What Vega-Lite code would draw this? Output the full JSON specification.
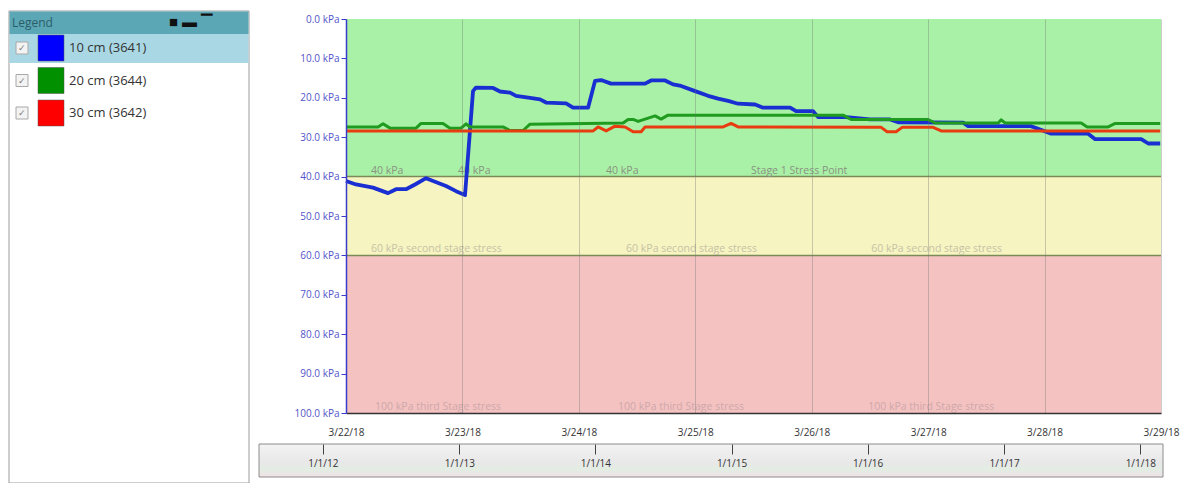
{
  "$schema": "https://vega.github.io/schema/vega-lite/v6.json",
  "background": "white",
  "padding": {"left": 8, "top": 10, "right": 0, "bottom": 0},
  "spacing": 8,
  "config": {"view": {"stroke": null}, "font": "Open Sans"},
  "datasets": {
    "series": [
      {"name": "10 cm (3641)"},
      {"name": "20 cm (3644)"},
      {"name": "30 cm (3642)"}
    ],
    "bands": [
      {"stage": "Stage 1", "kpa": 0, "kpaHi": 40},
      {"stage": "Stage 2", "kpa": 40, "kpaHi": 60},
      {"stage": "Stage 3", "kpa": 60, "kpaHi": 100}
    ],
    "thresholds": [{"kpa": 40}, {"kpa": 60}],
    "bandLabels": [
      {"t": "2018-03-22T05:09", "kpa": 40, "label": "40 kPa"},
      {"t": "2018-03-22T23:06", "kpa": 40, "label": "40 kPa"},
      {"t": "2018-03-24T05:37", "kpa": 40, "label": "40 kPa"},
      {"t": "2018-03-25T11:30", "kpa": 40, "label": "Stage 1 Stress Point"},
      {"t": "2018-03-22T05:09", "kpa": 60, "label": "60 kPa second stage stress"},
      {"t": "2018-03-24T09:44", "kpa": 60, "label": "60 kPa second stage stress"},
      {"t": "2018-03-26T12:15", "kpa": 60, "label": "60 kPa second stage stress"},
      {"t": "2018-03-22T06:00", "kpa": 100, "label": "100 kPa third Stage stress"},
      {"t": "2018-03-24T08:05", "kpa": 100, "label": "100 kPa third Stage stress"},
      {"t": "2018-03-26T11:38", "kpa": 100, "label": "100 kPa third Stage stress"}
    ],
    "readings": [
      {"series": "10 cm (3641)", "t": "2018-03-22T00:00", "kpa": 41.1},
      {"series": "10 cm (3641)", "t": "2018-03-22T02:04", "kpa": 42.0},
      {"series": "10 cm (3641)", "t": "2018-03-22T05:34", "kpa": 42.8},
      {"series": "10 cm (3641)", "t": "2018-03-22T08:40", "kpa": 44.2},
      {"series": "10 cm (3641)", "t": "2018-03-22T10:19", "kpa": 43.2},
      {"series": "10 cm (3641)", "t": "2018-03-22T12:22", "kpa": 43.2},
      {"series": "10 cm (3641)", "t": "2018-03-22T14:14", "kpa": 42.0},
      {"series": "10 cm (3641)", "t": "2018-03-22T16:30", "kpa": 40.4},
      {"series": "10 cm (3641)", "t": "2018-03-22T18:21", "kpa": 41.3},
      {"series": "10 cm (3641)", "t": "2018-03-22T20:37", "kpa": 42.4},
      {"series": "10 cm (3641)", "t": "2018-03-22T22:41", "kpa": 43.7},
      {"series": "10 cm (3641)", "t": "2018-03-23T00:32", "kpa": 44.7},
      {"series": "10 cm (3641)", "t": "2018-03-23T02:11", "kpa": 18.3},
      {"series": "10 cm (3641)", "t": "2018-03-23T02:48", "kpa": 17.4},
      {"series": "10 cm (3641)", "t": "2018-03-23T06:19", "kpa": 17.5},
      {"series": "10 cm (3641)", "t": "2018-03-23T07:45", "kpa": 18.4},
      {"series": "10 cm (3641)", "t": "2018-03-23T09:49", "kpa": 18.7},
      {"series": "10 cm (3641)", "t": "2018-03-23T11:03", "kpa": 19.5},
      {"series": "10 cm (3641)", "t": "2018-03-23T13:56", "kpa": 20.0},
      {"series": "10 cm (3641)", "t": "2018-03-23T16:00", "kpa": 20.4},
      {"series": "10 cm (3641)", "t": "2018-03-23T17:14", "kpa": 21.2},
      {"series": "10 cm (3641)", "t": "2018-03-23T21:22", "kpa": 21.4},
      {"series": "10 cm (3641)", "t": "2018-03-23T22:48", "kpa": 22.5},
      {"series": "10 cm (3641)", "t": "2018-03-24T01:54", "kpa": 22.5},
      {"series": "10 cm (3641)", "t": "2018-03-24T03:20", "kpa": 15.7},
      {"series": "10 cm (3641)", "t": "2018-03-24T04:35", "kpa": 15.5},
      {"series": "10 cm (3641)", "t": "2018-03-24T06:38", "kpa": 16.4},
      {"series": "10 cm (3641)", "t": "2018-03-24T13:39", "kpa": 16.4},
      {"series": "10 cm (3641)", "t": "2018-03-24T14:53", "kpa": 15.6},
      {"series": "10 cm (3641)", "t": "2018-03-24T17:46", "kpa": 15.6},
      {"series": "10 cm (3641)", "t": "2018-03-24T19:25", "kpa": 16.6},
      {"series": "10 cm (3641)", "t": "2018-03-24T21:04", "kpa": 17.0},
      {"series": "10 cm (3641)", "t": "2018-03-24T23:58", "kpa": 18.3},
      {"series": "10 cm (3641)", "t": "2018-03-25T02:38", "kpa": 19.5},
      {"series": "10 cm (3641)", "t": "2018-03-25T04:42", "kpa": 20.2},
      {"series": "10 cm (3641)", "t": "2018-03-25T06:46", "kpa": 20.8},
      {"series": "10 cm (3641)", "t": "2018-03-25T08:49", "kpa": 21.5},
      {"series": "10 cm (3641)", "t": "2018-03-25T12:20", "kpa": 21.7},
      {"series": "10 cm (3641)", "t": "2018-03-25T13:59", "kpa": 22.5},
      {"series": "10 cm (3641)", "t": "2018-03-25T19:33", "kpa": 22.5},
      {"series": "10 cm (3641)", "t": "2018-03-25T20:47", "kpa": 23.4},
      {"series": "10 cm (3641)", "t": "2018-03-26T00:17", "kpa": 23.4},
      {"series": "10 cm (3641)", "t": "2018-03-26T01:19", "kpa": 24.9},
      {"series": "10 cm (3641)", "t": "2018-03-26T07:06", "kpa": 24.9},
      {"series": "10 cm (3641)", "t": "2018-03-26T12:02", "kpa": 25.5},
      {"series": "10 cm (3641)", "t": "2018-03-26T16:10", "kpa": 25.5},
      {"series": "10 cm (3641)", "t": "2018-03-26T17:49", "kpa": 26.2},
      {"series": "10 cm (3641)", "t": "2018-03-27T07:13", "kpa": 26.3},
      {"series": "10 cm (3641)", "t": "2018-03-27T08:15", "kpa": 27.2},
      {"series": "10 cm (3641)", "t": "2018-03-27T21:14", "kpa": 27.2},
      {"series": "10 cm (3641)", "t": "2018-03-28T01:22", "kpa": 29.1},
      {"series": "10 cm (3641)", "t": "2018-03-28T08:59", "kpa": 29.1},
      {"series": "10 cm (3641)", "t": "2018-03-28T10:26", "kpa": 30.5},
      {"series": "10 cm (3641)", "t": "2018-03-28T19:55", "kpa": 30.5},
      {"series": "10 cm (3641)", "t": "2018-03-28T21:22", "kpa": 31.6},
      {"series": "10 cm (3641)", "t": "2018-03-28T23:50", "kpa": 31.6},
      {"series": "20 cm (3644)", "t": "2018-03-22T00:00", "kpa": 27.4},
      {"series": "20 cm (3644)", "t": "2018-03-22T06:36", "kpa": 27.4},
      {"series": "20 cm (3644)", "t": "2018-03-22T07:38", "kpa": 26.6},
      {"series": "20 cm (3644)", "t": "2018-03-22T09:04", "kpa": 27.7},
      {"series": "20 cm (3644)", "t": "2018-03-22T14:26", "kpa": 27.7},
      {"series": "20 cm (3644)", "t": "2018-03-22T15:28", "kpa": 26.5},
      {"series": "20 cm (3644)", "t": "2018-03-22T20:00", "kpa": 26.5},
      {"series": "20 cm (3644)", "t": "2018-03-22T21:26", "kpa": 27.7},
      {"series": "20 cm (3644)", "t": "2018-03-22T23:43", "kpa": 27.7},
      {"series": "20 cm (3644)", "t": "2018-03-23T00:45", "kpa": 26.6},
      {"series": "20 cm (3644)", "t": "2018-03-23T01:34", "kpa": 27.4},
      {"series": "20 cm (3644)", "t": "2018-03-23T08:22", "kpa": 27.4},
      {"series": "20 cm (3644)", "t": "2018-03-23T09:49", "kpa": 28.3},
      {"series": "20 cm (3644)", "t": "2018-03-23T12:30", "kpa": 28.3},
      {"series": "20 cm (3644)", "t": "2018-03-23T13:56", "kpa": 26.7},
      {"series": "20 cm (3644)", "t": "2018-03-24T09:07", "kpa": 26.4},
      {"series": "20 cm (3644)", "t": "2018-03-24T10:09", "kpa": 25.5},
      {"series": "20 cm (3644)", "t": "2018-03-24T11:11", "kpa": 25.5},
      {"series": "20 cm (3644)", "t": "2018-03-24T12:13", "kpa": 26.0},
      {"series": "20 cm (3644)", "t": "2018-03-24T13:39", "kpa": 25.4},
      {"series": "20 cm (3644)", "t": "2018-03-24T15:43", "kpa": 24.6},
      {"series": "20 cm (3644)", "t": "2018-03-24T16:57", "kpa": 25.4},
      {"series": "20 cm (3644)", "t": "2018-03-24T18:23", "kpa": 24.4},
      {"series": "20 cm (3644)", "t": "2018-03-26T06:29", "kpa": 24.4},
      {"series": "20 cm (3644)", "t": "2018-03-26T08:08", "kpa": 25.5},
      {"series": "20 cm (3644)", "t": "2018-03-27T00:00", "kpa": 25.5},
      {"series": "20 cm (3644)", "t": "2018-03-27T01:27", "kpa": 26.4},
      {"series": "20 cm (3644)", "t": "2018-03-27T14:26", "kpa": 26.4},
      {"series": "20 cm (3644)", "t": "2018-03-27T15:03", "kpa": 25.6},
      {"series": "20 cm (3644)", "t": "2018-03-27T15:53", "kpa": 26.4},
      {"series": "20 cm (3644)", "t": "2018-03-28T07:33", "kpa": 26.4},
      {"series": "20 cm (3644)", "t": "2018-03-28T08:47", "kpa": 27.4},
      {"series": "20 cm (3644)", "t": "2018-03-28T13:07", "kpa": 27.4},
      {"series": "20 cm (3644)", "t": "2018-03-28T14:34", "kpa": 26.5},
      {"series": "20 cm (3644)", "t": "2018-03-28T23:50", "kpa": 26.5},
      {"series": "30 cm (3642)", "t": "2018-03-22T00:00", "kpa": 28.4},
      {"series": "30 cm (3642)", "t": "2018-03-24T02:56", "kpa": 28.4},
      {"series": "30 cm (3642)", "t": "2018-03-24T03:58", "kpa": 27.4},
      {"series": "30 cm (3642)", "t": "2018-03-24T05:37", "kpa": 28.4},
      {"series": "30 cm (3642)", "t": "2018-03-24T07:28", "kpa": 27.2},
      {"series": "30 cm (3642)", "t": "2018-03-24T09:32", "kpa": 27.4},
      {"series": "30 cm (3642)", "t": "2018-03-24T11:11", "kpa": 28.6},
      {"series": "30 cm (3642)", "t": "2018-03-24T12:50", "kpa": 28.6},
      {"series": "30 cm (3642)", "t": "2018-03-24T13:39", "kpa": 27.4},
      {"series": "30 cm (3642)", "t": "2018-03-25T05:44", "kpa": 27.4},
      {"series": "30 cm (3642)", "t": "2018-03-25T07:23", "kpa": 26.5},
      {"series": "30 cm (3642)", "t": "2018-03-25T08:49", "kpa": 27.4},
      {"series": "30 cm (3642)", "t": "2018-03-26T14:19", "kpa": 27.5},
      {"series": "30 cm (3642)", "t": "2018-03-26T15:33", "kpa": 28.6},
      {"series": "30 cm (3642)", "t": "2018-03-26T17:24", "kpa": 28.6},
      {"series": "30 cm (3642)", "t": "2018-03-26T18:38", "kpa": 27.5},
      {"series": "30 cm (3642)", "t": "2018-03-27T01:02", "kpa": 27.5},
      {"series": "30 cm (3642)", "t": "2018-03-27T02:41", "kpa": 28.4},
      {"series": "30 cm (3642)", "t": "2018-03-28T23:50", "kpa": 28.4}
    ],
    "navigator": [{"start": "2011-07-14", "end": "2018-03-03"}]
  },
  "hconcat": [
    {
      "width": 240,
      "height": 394,
      "data": {"name": "series"},
      "layer": [
        {
          "data": {"values": [{"title": "Legend"}]},
          "mark": {"type": "rect", "fill": "white", "stroke": "#9c9c9c", "strokeWidth": 1},
          "encoding": {"x": {"value": 0}, "x2": {"value": 240}, "y": {"value": -8}, "y2": {"value": 464}}
        },
        {
          "data": {"values": [{"title": "Legend"}]},
          "mark": {"type": "rect", "fill": "#5ba7b6"},
          "encoding": {"x": {"value": 0.5}, "x2": {"value": 239.5}, "y": {"value": -7.5}, "y2": {"value": 15}}
        },
        {
          "data": {"values": [{"title": "Legend"}]},
          "mark": {"type": "text", "align": "left", "baseline": "middle", "fontSize": 12, "color": "#2b5d69"},
          "encoding": {"x": {"value": 3}, "y": {"value": 3.5}, "text": {"field": "title"}}
        },
        {
          "data": {"values": [{"title": "Legend"}]},
          "mark": {"type": "text", "align": "left", "baseline": "middle", "fontSize": 15, "color": "#111111"},
          "encoding": {"x": {"value": 160}, "y": {"value": 3}, "text": {"value": "■ ▬ ▔"}}
        },
        {
          "transform": [{"filter": "datum.name === '10 cm (3641)'"}],
          "mark": {"type": "rect", "fill": "#a9d8e4"},
          "encoding": {"x": {"value": 0.5}, "x2": {"value": 239.5}, "y": {"value": 15}, "y2": {"value": 44}}
        },
        {
          "mark": {"type": "point", "shape": "square", "filled": true, "fill": "#f3f3f3", "stroke": "#a8a8a8", "strokeWidth": 1, "size": 144, "opacity": 1},
          "encoding": {
            "x": {"value": 13},
            "y": {"field": "name", "type": "nominal", "scale": {"type": "point", "padding": 0, "domain": ["10 cm (3641)", "20 cm (3644)", "30 cm (3642)"], "range": [29, 94]}, "axis": null}
          }
        },
        {
          "mark": {"type": "text", "align": "center", "baseline": "middle", "fontSize": 9, "color": "#7a7a7a"},
          "encoding": {
            "x": {"value": 13},
            "y": {"field": "name", "type": "nominal"},
            "text": {"value": "✓"}
          }
        },
        {
          "mark": {"type": "point", "shape": "square", "filled": true, "size": 676, "opacity": 1, "stroke": "#555555", "strokeWidth": 0.5},
          "encoding": {
            "x": {"value": 42},
            "y": {"field": "name", "type": "nominal"},
            "color": {"field": "name", "type": "nominal", "scale": {"domain": ["10 cm (3641)", "20 cm (3644)", "30 cm (3642)"], "range": ["#0000ff", "#009000", "#ff0000"]}, "legend": null}
          }
        },
        {
          "mark": {"type": "text", "align": "left", "baseline": "middle", "fontSize": 13, "color": "#333333"},
          "encoding": {
            "x": {"value": 60},
            "y": {"field": "name", "type": "nominal"},
            "text": {"field": "name"}
          }
        }
      ]
    },
    {
      "spacing": 6,
      "vconcat": [
        {
          "width": 815,
          "height": 394,
          "encoding": {
            "y": {
              "field": "kpa", "type": "quantitative", "title": null,
              "scale": {"domain": [0, 100], "reverse": true, "nice": false, "zero": false},
              "axis": {
                "values": [0, 10, 20, 30, 40, 50, 60, 70, 80, 90, 100],
                "tickCount": 20,
                "labelExpr": "format(datum.value, '.1f') + ' kPa'",
                "labelColor": "#5353c9", "labelFontSize": 10, "labelOverlap": false,
                "domainColor": "#3a3acb", "domainWidth": 1.5,
                "tickColor": "#3a3acb", "tickSize": 5, "labelPadding": 2,
                "grid": false, "minExtent": 87, "zindex": 1
              }
            }
          },
          "layer": [
            {
              "data": {"name": "bands"},
              "mark": {"type": "rect"},
              "encoding": {
                "y2": {"field": "kpaHi"},
                "fill": {"field": "stage", "type": "nominal", "scale": {"domain": ["Stage 1", "Stage 2", "Stage 3"], "range": ["#a9f1a6", "#f6f4c1", "#f5c2c2"]}, "legend": null}
              }
            },
            {
              "data": {"name": "thresholds"},
              "mark": {"type": "rule", "color": "#7c8a5a", "strokeWidth": 1.5},
              "encoding": {}
            },
            {
              "data": {"name": "bandLabels"},
              "mark": {"type": "text", "align": "left", "baseline": "bottom", "dy": -1, "fontSize": 10.5},
              "encoding": {
                "x": {"field": "t", "type": "temporal", "title": null},
                "text": {"field": "label"},
                "color": {"condition": [{"test": "datum.kpa == 40", "value": "#8a9282"}, {"test": "datum.kpa == 60", "value": "#c7c2a6"}], "value": "#cda8a8"}
              }
            },
            {
              "data": {"name": "readings"},
              "transform": [{"filter": "datum.series === '10 cm (3641)'"}],
              "mark": {"type": "line", "strokeWidth": 3.8, "strokeJoin": "round"},
              "encoding": {
                "x": {
                  "field": "t", "type": "temporal", "title": null,
                  "scale": {"domain": [{"year": 2018, "month": 3, "date": 22}, {"year": 2018, "month": 3, "date": 29}]},
                  "axis": {
                    "format": "%-m/%-d/%y", "tickCount": {"interval": "day", "step": 1},
                    "labelFontSize": 10, "labelColor": "#333333", "ticks": false, "tickSize": 0, "labelPadding": 14,
                    "domainColor": "#333333", "domainWidth": 1.5,
                    "grid": true, "gridColor": "#6f6f6f", "gridOpacity": 0.35,
                    "labelFlush": false, "labelOverlap": false, "zindex": 1
                  }
                },
                "stroke": {"field": "series", "type": "nominal", "scale": {"domain": ["10 cm (3641)", "20 cm (3644)", "30 cm (3642)"], "range": ["#1a2fd2", "#1f9b1f", "#e83c10"]}, "legend": null}
              }
            },
            {
              "data": {"name": "readings"},
              "transform": [{"filter": "datum.series !== '10 cm (3641)'"}],
              "mark": {"type": "line", "strokeWidth": 3, "strokeJoin": "round"},
              "encoding": {
                "x": {"field": "t", "type": "temporal", "title": null},
                "stroke": {"field": "series", "type": "nominal", "legend": null}
              }
            }
          ]
        },
        {
          "width": 815,
          "height": 33,
          "data": {"name": "navigator"},
          "mark": {
            "type": "rect", "stroke": "#8c8c8c", "strokeWidth": 1,
            "fill": {"gradient": "linear", "x1": 0, "y1": 0, "x2": 0, "y2": 1,
              "stops": [{"offset": 0, "color": "#f3f3f3"}, {"offset": 0.55, "color": "#e8e8e8"}, {"offset": 0.78, "color": "#e3ede3"}, {"offset": 1, "color": "#f1e1e6"}]}
          },
          "encoding": {
            "x": {
              "field": "start", "type": "temporal", "title": null,
              "scale": {"domain": [{"year": 2011, "month": 7, "date": 14}, {"year": 2018, "month": 3, "date": 3}], "range": [-87, 817]},
              "axis": {
                "orient": "bottom", "offset": -33, "format": "%-m/%-d/%y",
                "tickCount": {"interval": "year", "step": 1},
                "labelFontSize": 10, "labelColor": "#333333", "tickColor": "#444444", "tickSize": 10,
                "labelPadding": 4, "domain": false, "grid": false, "labelFlush": false, "zindex": 1
              }
            },
            "x2": {"field": "end"}
          }
        }
      ]
    }
  ]
}
